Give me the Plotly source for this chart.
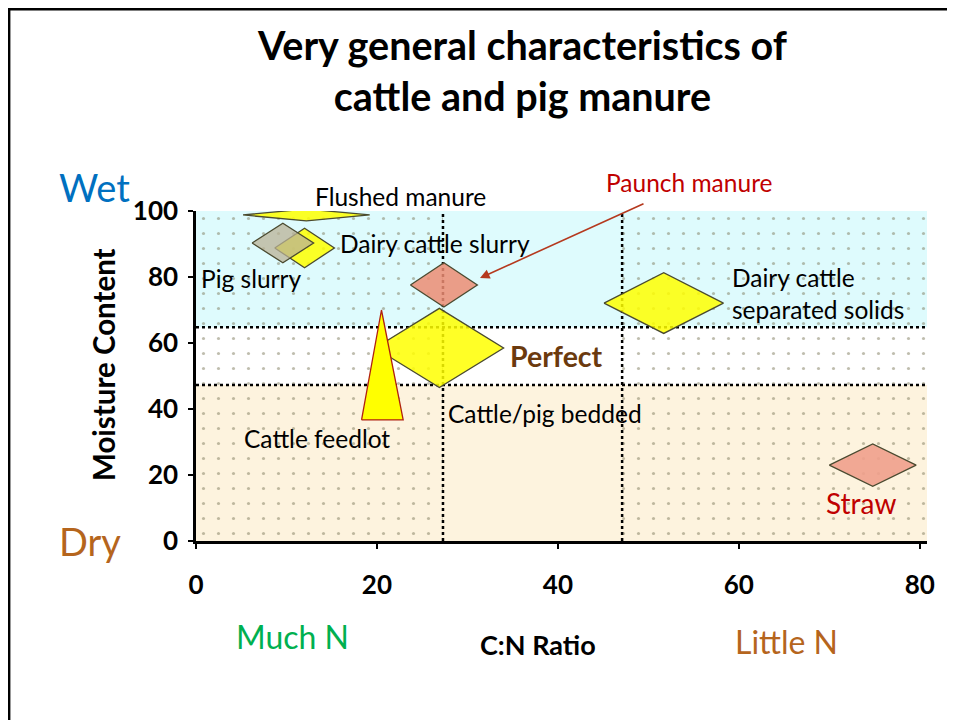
import plotly.graph_objects as go

# ---------------- data ----------------
x_ticks = [0, 20, 40, 60, 80]
y_ticks = [0, 20, 40, 60, 80, 100]

# zone boundaries (C:N ratio, moisture %)
zone_x = [0, 27.3, 47.1, 80.8]
zone_y = [0, 47.3, 64.8, 100]
zone_row_colors = ["#FDF3DE", "#FFFFFF", "#DEFBFD"]   # dry, mid, wet
zone_col_dotted = [True, False, True]

# manure types drawn as diamonds: centre C:N, centre moisture, half-width, half-height
dia_names = ["Flushed manure", "Dairy cattle slurry", "Pig slurry", "Paunch manure",
             "Perfect", "Dairy cattle separated solids", "Straw"]
dia_cx = [12.2, 12.0, 9.6, 27.4, 26.9, 51.7, 74.8]
dia_cy = [98.8, 88.8, 90.3, 77.6, 58.5, 72.1, 23.0]
dia_hw = [7.0, 3.3, 3.4, 3.7, 7.1, 6.6, 4.8]
dia_hh = [1.8, 6.0, 6.0, 6.7, 12.0, 9.2, 6.4]
dia_fill = ["rgba(255,255,0,0.85)", "rgba(255,255,0,0.85)", "rgba(185,178,150,0.75)",
            "rgba(236,140,115,0.85)", "rgba(255,255,0,0.85)", "rgba(255,255,0,0.85)",
            "rgba(240,160,140,0.9)"]

# cattle feedlot triangle: base-left, apex, base-right
feedlot_x = [18.3, 20.5, 22.9]
feedlot_y = [36.7, 70.0, 36.7]

# ---------------- layout geometry (viewport pixels; page body has 8px margin) ----------------
OFF = 8
W, H = 955 - OFF, 720 - OFF
PL, PR, PT, PB = 196, 927, 211, 541          # plot box in viewport pixels
L, R, T, B = PL - OFF, W - (PR - OFF), PT - OFF, H - (PB - OFF)
PW, PH = PR - PL, PB - PT

def paper_x(p):
    return (p - PL) / PW

def paper_y(p):
    return (PB - p) / PH

fig = go.Figure()

# background zones
for ri in range(3):
    for ci in range(3):
        x0, x1 = zone_x[ci], zone_x[ci + 1]
        y0, y1 = zone_y[ri], zone_y[ri + 1]
        kw = {}
        if zone_col_dotted[ci]:
            kw["fillpattern"] = dict(shape=".", bgcolor=zone_row_colors[ri],
                                     fgcolor="#7f7c5e", size=15, solidity=0.035)
        fig.add_trace(go.Scatter(
            x=[x0, x1, x1, x0, x0], y=[y0, y0, y1, y1, y0],
            mode="lines", fill="toself", fillcolor=zone_row_colors[ri],
            line=dict(width=0), hoverinfo="skip", showlegend=False, **kw))

# dotted divider lines
for xv in zone_x[1:3]:
    fig.add_trace(go.Scatter(x=[xv, xv], y=[0, 100], mode="lines",
                             line=dict(color="black", width=2.5, dash="dot"),
                             hoverinfo="skip", showlegend=False))
for yv in zone_y[1:3]:
    fig.add_trace(go.Scatter(x=[0, zone_x[-1]], y=[yv, yv], mode="lines",
                             line=dict(color="black", width=2.5, dash="dot"),
                             hoverinfo="skip", showlegend=False))

# diamonds (Perfect drawn last so the feedlot triangle sits over it)
order = [n for n in dia_names if n != "Perfect"] + ["Perfect"]
for n in order:
    i = dia_names.index(n)
    cx, cy, hw, hh = dia_cx[i], dia_cy[i], dia_hw[i], dia_hh[i]
    fig.add_trace(go.Scatter(
        x=[cx - hw, cx, cx + hw, cx, cx - hw], y=[cy, cy + hh, cy, cy - hh, cy],
        mode="lines", fill="toself", fillcolor=dia_fill[i],
        line=dict(color="#4a4a30", width=1.3), name=n, showlegend=False))

# feedlot triangle
fig.add_trace(go.Scatter(
    x=feedlot_x + [feedlot_x[0]], y=feedlot_y + [feedlot_y[0]],
    mode="lines", fill="toself", fillcolor="#FFFF00",
    line=dict(color="#B02010", width=1.3), name="Cattle feedlot", showlegend=False))

FONT = "Lato"

def label(txt, px, py, size=24.5, color="black", bold=False, xanchor="center", align="center", **kw):
    t = f"<b>{txt}</b>" if bold else txt
    fig.add_annotation(text=t, x=paper_x(px), y=paper_y(py), xref="paper", yref="paper",
                       showarrow=False, xanchor=xanchor, yanchor="middle", align=align,
                       font=dict(family=FONT, size=size, color=color), **kw)

label("Flushed manure", 400, 197)
label("Dairy cattle slurry", 338, 243, xanchor="left")
label("Pig slurry", 199, 278, xanchor="left")
label("Paunch manure", 689, 183, color="#C00000")
label("Dairy cattle<br>separated solids", 730, 293, xanchor="left", align="left")
label("Perfect", 508, 356, size=28.5, color="#6B3A0E", bold=True, xanchor="left")
label("Cattle/pig bedded", 446, 413, xanchor="left")
label("Cattle feedlot", 242, 438, xanchor="left")
label("Straw", 861, 503, size=28, color="#C00000")
label("Wet", 95, 187, size=38, color="#0070C0")
label("Dry", 90, 541, size=38, color="#B5651D")
label("Much N", 292, 636, size=32, color="#00B050")
label("Little N", 786, 641, size=32, color="#B5651D")
label("C:N Ratio", 538, 644, size=27, bold=True)
label("Moisture Content", 103, 364, size=29.5, bold=True, textangle=-90)
label("Very general characteristics of<br>cattle and pig manure", 522, 70, size=39.5, bold=True)

# paunch manure arrow
fig.add_annotation(x=paper_x(480), y=paper_y(278), ax=645 - 480, ay=203 - 278,
                   xref="paper", yref="paper", axref="pixel", ayref="pixel", text="",
                   showarrow=True, arrowhead=2, arrowsize=1.2, arrowwidth=1.6,
                   arrowcolor="#B5391E")

# frame around the slide
fig.add_shape(type="rect", xref="paper", yref="paper",
              x0=paper_x(9), x1=paper_x(975), y0=paper_y(740), y1=paper_y(9.2),
              line=dict(color="black", width=2.8), fillcolor="rgba(0,0,0,0)")

fig.update_layout(
    width=W, height=H, margin=dict(l=L, r=R, t=T, b=B),
    paper_bgcolor="white", plot_bgcolor="white", showlegend=False,
    font=dict(family=FONT),
    xaxis=dict(range=[0, zone_x[-1]], tickvals=x_ticks, ticktext=[str(v) for v in x_ticks],
               showgrid=False, zeroline=False, showline=True, linecolor="black", linewidth=2.5,
               ticks="outside", ticklen=5, tickwidth=2, tickcolor="black",
               ticklabelstandoff=14,
               tickfont=dict(family=FONT, size=26, color="black", weight="bold")),
    yaxis=dict(range=[0, 100], tickvals=y_ticks, ticktext=[str(v) for v in y_ticks],
               showgrid=False, zeroline=False, showline=True, linecolor="black", linewidth=2.5,
               ticks="outside", ticklen=5, tickwidth=2, tickcolor="black",
               ticklabelstandoff=5,
               tickfont=dict(family=FONT, size=26, color="black", weight="bold")),
)

fig.write_html("out.html")
